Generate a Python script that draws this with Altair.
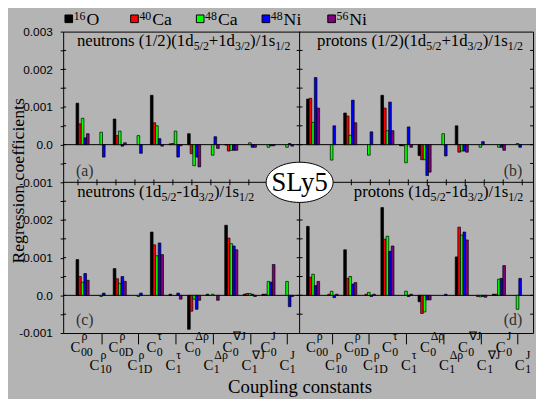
import altair as alt
import pandas as pd

# ---------------- data ----------------
groups = ["C00", "C10", "C0D", "C1D", "C0tau", "C1tau", "C0Drho", "C1Drho", "C0nablaJ", "C1nablaJ", "C0J", "C1J"]
label_sup = ["ρ", "ρ", "ρ", "ρ", "τ", "τ", "Δρ", "Δρ", "∇J", "∇J", "J", "J"]
label_sub = ["00", "10", "0D", "1D", "0", "1", "0", "1", "0", "1", "0", "1"]

nuclei = ["16O", "40Ca", "48Ca", "48Ni", "56Ni"]
nuc_mass = ["16", "40", "48", "48", "56"]
nuc_elem = ["O", "Ca", "Ca", "Ni", "Ni"]
nuc_colors = ["#000000", "#ff0000", "#00ff00", "#0000ff", "#800080"]

# regression coefficients in units of 1e-3
# (a) neutrons (1/2)(1d5/2+1d3/2)/1s1/2
a_16O = [1.10, 0.00, 0.68, 0.00, 1.31, 0.02, 0.29, 0.00, -0.01, 0.00, 0.00, 0.00]
a_40Ca = [0.55, 0.00, 0.24, 0.00, 0.58, 0.03, -0.24, 0.00, -0.17, 0.00, 0.00, 0.00]
a_48Ca = [0.70, 0.33, 0.36, 0.24, 0.50, 0.36, -0.56, -0.28, -0.15, 0.05, -0.07, -0.07]
a_48Ni = [0.18, -0.33, -0.04, -0.23, 0.16, -0.33, -0.33, 0.21, -0.15, -0.07, -0.03, 0.03]
a_56Ni = [0.29, 0.00, 0.05, 0.00, -0.04, -0.03, -0.59, -0.10, -0.15, -0.07, -0.03, -0.04]
# (b) protons (1/2)(1d5/2+1d3/2)/1s1/2
b_16O = [1.21, 0.00, 0.84, 0.00, 1.31, -0.03, -0.29, 0.00, 0.50, 0.00, 0.00, 0.00]
b_40Ca = [1.23, 0.00, 0.76, 0.00, 0.97, -0.03, -0.40, 0.00, -0.20, 0.00, 0.00, 0.00]
b_48Ca = [0.59, -0.41, 0.25, -0.28, 0.37, -0.48, -0.40, 0.29, -0.17, -0.07, -0.07, 0.03]
b_48Ni = [1.78, 0.50, 1.18, 0.34, 1.13, 0.47, -0.82, -0.30, -0.17, 0.08, -0.07, -0.07]
b_56Ni = [0.97, 0.00, 0.58, 0.00, 0.37, -0.07, -0.73, 0.00, -0.20, 0.00, -0.15, 0.00]
# (c) neutrons (1d5/2-1d3/2)/1s1/2
c_16O = [0.95, 0.00, 0.71, 0.00, 1.68, 0.03, -0.90, 0.03, 1.86, 0.03, 0.03, 0.00]
c_40Ca = [0.50, 0.00, 0.44, 0.00, 1.34, 0.00, -0.42, 0.00, 1.52, 0.05, 0.03, 0.00]
c_48Ca = [0.35, -0.03, 0.32, -0.03, 1.05, 0.00, -0.10, 0.03, 1.37, 0.05, 0.37, 0.37]
c_48Ni = [0.58, 0.06, 0.50, 0.06, 1.39, 0.06, -0.37, 0.00, 1.31, 0.03, 0.35, -0.30]
c_56Ni = [0.40, 0.00, 0.37, 0.00, 1.08, -0.10, -0.13, -0.13, 1.21, -0.03, 0.82, -0.03]
# (d) protons (1d5/2-1d3/2)/1s1/2
d_16O = [1.83, 0.00, 1.21, 0.00, 2.33, 0.00, -0.17, 0.00, 1.02, 0.00, 0.03, 0.00]
d_40Ca = [0.48, 0.03, 0.45, 0.03, 1.49, 0.00, -0.48, 0.00, 1.81, -0.03, 0.03, 0.00]
d_48Ca = [0.56, 0.11, 0.50, 0.08, 1.57, 0.11, -0.44, 0.00, 1.60, -0.04, 0.43, -0.37]
d_48Ni = [0.26, -0.06, 0.30, -0.03, 1.17, -0.03, -0.12, 0.03, 1.68, -0.03, 0.45, 0.45]
d_56Ni = [0.37, 0.03, 0.34, 0.03, 1.31, 0.03, -0.12, 0.00, 1.47, -0.05, 0.79, 0.00]

panel_titles = [
    [("neutrons (1/2)(1d", 0), ("5/2", 1), ("+1d", 0), ("3/2", 1), (")/1s", 0), ("1/2", 1)],
    [("protons (1/2)(1d", 0), ("5/2", 1), ("+1d", 0), ("3/2", 1), (")/1s", 0), ("1/2", 1)],
    [("neutrons (1d", 0), ("5/2", 1), ("-1d", 0), ("3/2", 1), (")/1s", 0), ("1/2", 1)],
    [("protons (1d", 0), ("5/2", 1), ("-1d", 0), ("3/2", 1), (")/1s", 0), ("1/2", 1)],
]
panel_letters = ["(a)", "(b)", "(c)", "(d)"]

# ---------------- table ----------------
panel_series = [
    (0, 0, [a_16O, a_40Ca, a_48Ca, a_48Ni, a_56Ni]),
    (1, 0, [b_16O, b_40Ca, b_48Ca, b_48Ni, b_56Ni]),
    (0, 1, [c_16O, c_40Ca, c_48Ca, c_48Ni, c_56Ni]),
    (1, 1, [d_16O, d_40Ca, d_48Ca, d_48Ni, d_56Ni]),
]
rows = []
for col, row, series in panel_series:
    for j, s in enumerate(series):
        for g, v in enumerate(s):
            rows.append({"col": col, "row": row, "g": g, "j": j, "nuc": nuclei[j], "v": v})
df = pd.DataFrame(rows)

# ---------------- layout constants ----------------
W, H = 477, 306
XMIN, XMAX = -0.78, 23.97
XDIV = 11.675
ROFF = 12.40
BSTEP = 0.14
PXU = W / (XMAX - XMIN)
TU = 3 / PXU
DY = 3 / (H / 0.008)
SERIF = "Liberation Serif"
SANS = "Liberation Sans"

XSC = alt.Scale(domain=[XMIN, XMAX], nice=False, zero=False)
YSC = alt.Scale(domain=[-0.001, 0.007], nice=False, zero=False)
CSC = alt.Scale(domain=nuclei, range=nuc_colors)
one = pd.DataFrame({"k": [0]})

yvals = [round(-0.001 + 0.0005 * i, 4) for i in range(17)]
t = "round(datum.value*10000)"
v = f"({t} > 29 ? {t} - 40 : {t})"
lab_expr = f"{t} % 10 != 0 ? '' : ({v} == 0 ? '0.0' : ({v} < 0 ? '-' : '') + '0.00' + abs({v}/10))"

yaxis = alt.Axis(values=yvals, labelExpr=lab_expr, tickSize=3, labelPadding=8, domain=False,
                 grid=False, labelFont=SANS, labelFontSize=12, labelColor="black",
                 tickColor="black", tickWidth=1, labelOverlap=False, labelFlush=False,
                 title="Regression coefficients", titleFont=SERIF, titleFontSize=18,
                 titleFontWeight="normal", titleColor="black", titleX=-40, titleY=151,
                 titleAngle=270, titleBaseline="alphabetic", titleAlign="center")

xticks = [g + c * ROFF for c in (0, 1) for g in range(1, 12, 2)]
xaxis = alt.Axis(values=xticks, labels=False, tickSize=11, domain=False, grid=False,
                 tickColor="black", tickWidth=1,
                 title="Coupling constants", titleFont=SERIF, titleFontSize=19,
                 titleFontWeight="normal", titleColor="black", titleX=240, titleY=60,
                 titleBaseline="alphabetic", titleAlign="center")

layers = []

# zero lines
zero_df = pd.DataFrame({"b": [0.004, 0.0]})
layers.append(alt.Chart(zero_df).mark_rule(color="black", strokeWidth=1).encode(
    y=alt.Y("b:Q", scale=YSC, axis=yaxis)))

# bars
bars = alt.Chart(df).transform_filter("datum.v != 0").transform_calculate(
    xpos=f"datum.g + datum.col*{ROFF} + (datum.j-2)*{BSTEP}",
    base="datum.row == 0 ? 0.004 : 0",
    ytop="(datum.row == 0 ? 0.004 : 0) + datum.v/1000",
).mark_bar(size=2.7, stroke="black", strokeWidth=0.7, opacity=1).encode(
    x=alt.X("xpos:Q", scale=XSC, axis=xaxis),
    y=alt.Y("ytop:Q", scale=YSC, axis=yaxis),
    y2="base:Q",
    color=alt.Color("nuc:N", scale=CSC, legend=None),
)
layers.append(bars)

# panel dividers
layers.append(alt.Chart(one).mark_rule(color="black", strokeWidth=1).encode(
    x=alt.XDatum(XDIV, type="quantitative", scale=XSC, axis=None)))
layers.append(alt.Chart(one).mark_rule(color="black", strokeWidth=1).encode(
    y=alt.YDatum(0.003, type="quantitative", scale=YSC, axis=yaxis)))

# inner y ticks on vertical frame lines
tk = []
for yv in yvals:
    if yv in (-0.001, 0.003, 0.007):
        continue
    tk.append({"y": yv, "x1": XMIN, "x2": XMIN + TU})
    tk.append({"y": yv, "x1": XDIV - TU, "x2": XDIV + TU})
    tk.append({"y": yv, "x1": XMAX - TU, "x2": XMAX})
layers.append(alt.Chart(pd.DataFrame(tk)).mark_rule(color="black", strokeWidth=1).encode(
    x=alt.X("x1:Q", scale=XSC, axis=None), x2="x2:Q",
    y=alt.Y("y:Q", scale=YSC, axis=yaxis)))

# x ticks on the middle frame line
mt = [{"x": g + c * ROFF, "y1": 0.003 - DY, "y2": 0.003 + DY} for c in (0, 1) for g in range(12)]
layers.append(alt.Chart(pd.DataFrame(mt)).mark_rule(color="black", strokeWidth=1).encode(
    x=alt.X("x:Q", scale=XSC, axis=None),
    y=alt.Y("y1:Q", scale=YSC, axis=yaxis), y2="y2:Q"))

# coupling constant labels
lab_rows = []
for c in (0, 1):
    for g in range(12):
        lab_rows.append({"g": g, "col": c, "sup": label_sup[g], "sub": label_sub[g], "par": g % 2})
lab_df = pd.DataFrame(lab_rows)
for par, (yc, ysup, ysub) in [(0, (325, 313, 329)), (1, (343.5, 332, 346.5))]:
    base = alt.Chart(lab_df).transform_filter(f"datum.par == {par}").transform_calculate(
        xp=f"datum.g + datum.col*{ROFF}")
    xenc = alt.X("xp:Q", scale=XSC, axis=None)
    layers.append(base.mark_text(text="C", align="left", baseline="alphabetic", dx=-7.5,
                                 font=SERIF, fontSize=15, color="black").encode(
        x=xenc, y=alt.value(yc)))
    layers.append(base.mark_text(align="left", baseline="alphabetic", dx=3.5,
                                 font=SERIF, fontSize=12, color="black").encode(
        x=xenc, y=alt.value(ysup), text="sup:N"))
    layers.append(base.mark_text(align="left", baseline="alphabetic", dx=3,
                                 font=SERIF, fontSize=12, color="black").encode(
        x=xenc, y=alt.value(ysub), text="sub:N"))

# legend
leg_df = pd.DataFrame({"nuc": nuclei, "mass": nuc_mass, "elem": nuc_elem})
LX = alt.Scale(domain=nuclei, range=[5.7, 272.5], padding=0)
layers.append(alt.Chart(leg_df).mark_square(size=60, filled=True, opacity=1, stroke="black",
                                            strokeWidth=1).encode(
    x=alt.X("nuc:N", scale=LX, axis=None), y=alt.value(-13),
    color=alt.Color("nuc:N", scale=CSC, legend=None)))
layers.append(alt.Chart(leg_df).mark_text(align="left", baseline="alphabetic", dx=5,
                                          font=SERIF, fontSize=12, color="black").encode(
    x=alt.X("nuc:N", scale=LX, axis=None), y=alt.value(-12), text="mass:N"))
layers.append(alt.Chart(leg_df).mark_text(align="left", baseline="alphabetic", dx=18,
                                          font=SERIF, fontSize=18, color="black").encode(
    x=alt.X("nuc:N", scale=LX, axis=None), y=alt.value(-6.4), text="elem:N"))

# panel titles with subscripts
TW = {' ': .25, '(': .333, ')': .333, '/': .278, '+': .564, '-': .333, 'n': .5, 'e': .444,
      'u': .5, 't': .278, 'r': .333, 'o': .5, 's': .389, 'p': .5, 'd': .5}
def tw(s, size):
    return sum(TW.get(ch, .5) for ch in s) * size

title_pos = [(14, 15), (257.7, 15), (14.3, 168.3), (295, 168)]
for parts, (x0, y0) in zip(panel_titles, title_pos):
    xc = x0
    for txt, is_sub in parts:
        size = 12 if is_sub else 17
        layers.append(alt.Chart(one).mark_text(text=txt, align="left", baseline="alphabetic",
                                               font=SERIF, fontSize=size, color="black").encode(
            x=alt.value(xc), y=alt.value(y0 + (4 if is_sub else 0))))
        xc += tw(txt, size)

# panel letters
letter_pos = [(13, 147, "left"), (466, 147, "right"), (13, 298, "left"), (466, 298, "right")]
for txt, (lx, ly, al) in zip(panel_letters, letter_pos):
    layers.append(alt.Chart(one).mark_text(text=txt, align=al, baseline="alphabetic",
                                           font=SERIF, fontSize=16, color="#303030").encode(
        x=alt.value(lx), y=alt.value(ly)))

# SLy5 ellipse
ELL = "M -1 0 A 1 0.6 0 1 1 1 0 A 1 0.6 0 1 1 -1 0 Z"
layers.append(alt.Chart(one).mark_point(shape=ELL, size=68 * 68, filled=True, color="white",
                                        stroke="black", strokeWidth=1, opacity=1).encode(
    x=alt.XDatum(XDIV, type="quantitative", scale=XSC, axis=None),
    y=alt.YDatum(0.003, type="quantitative", scale=YSC, axis=yaxis)))
layers.append(alt.Chart(one).mark_text(text="SLy5", align="center", baseline="alphabetic", dy=9,
                                       font=SERIF, fontSize=27, color="black").encode(
    x=alt.XDatum(XDIV, type="quantitative", scale=XSC, axis=None),
    y=alt.YDatum(0.003, type="quantitative", scale=YSC, axis=yaxis)))

chart = alt.layer(*layers).resolve_scale(x="independent").properties(
    width=W, height=H,
    autosize=alt.AutoSizeParams(type="none"),
    padding={"left": 56, "top": 21, "right": 3, "bottom": 64},
    background="#b4b4b4",
).configure_view(stroke="black", strokeWidth=1)

chart.save("out.html", embed_options={"renderer": "svg", "actions": False})
